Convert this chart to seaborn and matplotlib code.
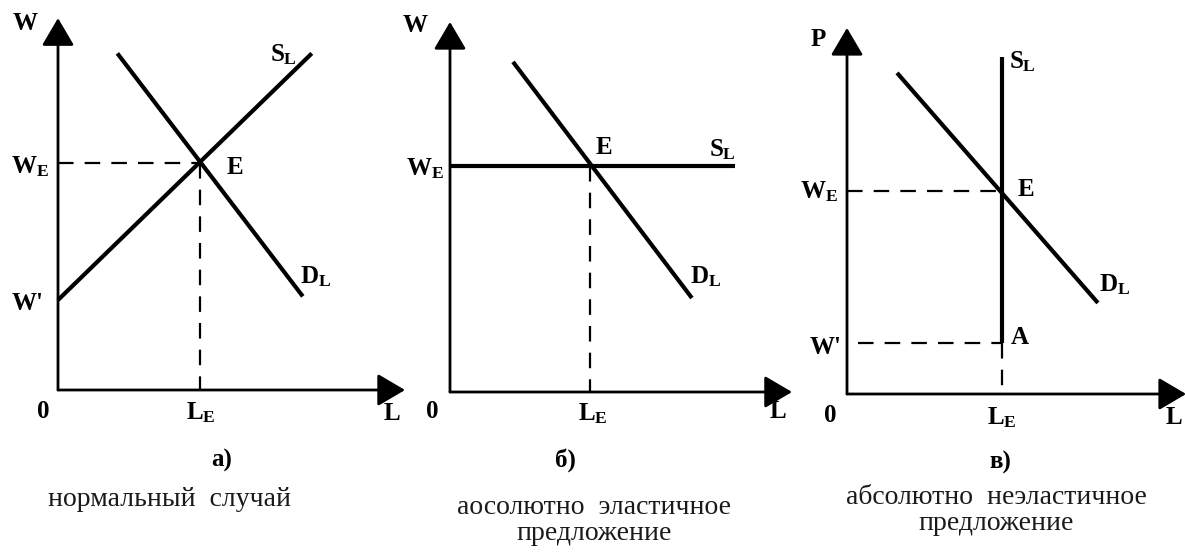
import matplotlib
matplotlib.use("Agg")
import matplotlib.pyplot as plt
import pandas as pd
import seaborn as sns

# ---------------- data (model units) ----------------
# Panel a) normal case
a_supply_L = [0.0, 7.05]
a_supply_W = [2.5, 9.35]
a_demand_L = [1.65, 6.8]
a_demand_W = [9.35, 2.6]
a_LE, a_WE, a_W1 = 3.95, 6.3, 2.5
a_axis_len = [9.64, 10.33]

# Panel b) perfectly elastic supply
b_supply_L = [0.0, 7.92]
b_supply_W = [6.28, 6.28]
b_demand_L = [1.75, 6.72]
b_demand_W = [9.17, 2.61]
b_LE, b_WE = 3.89, 6.28
b_axis_len = [9.5, 10.28]

# Panel c) perfectly inelastic supply
c_supply_L = [4.31, 4.31]
c_supply_W = [1.42, 9.36]
c_demand_L = [1.39, 6.97]
c_demand_W = [8.92, 2.53]
c_LE, c_WE, c_W1 = 4.31, 5.64, 1.42
c_axis_len = [9.42, 10.17]

captions = [["нормальный  случай"],
            ["аосолютно  эластичное", "предложение"],
            ["абсолютно  неэластичное", "предложение"]]
panel_letters = ["а)", "б)", "в)"]

# ---------------- style ----------------
sns.set_theme(style="white")
plt.rcParams["font.family"] = ["Liberation Serif", "DejaVu Serif"]
plt.rcParams["mathtext.fontset"] = "custom"
plt.rcParams["mathtext.rm"] = "Liberation Serif:bold"
plt.rcParams["mathtext.it"] = "Liberation Serif:bold"
plt.rcParams["mathtext.bf"] = "Liberation Serif:bold"

W_PX, H_PX = 1185, 553
SCALE = 36.0  # pixels per model unit
fig = plt.figure(figsize=(W_PX / 100, H_PX / 100), dpi=100)
fig.patch.set_facecolor("white")

LAB = 18
CAP = 20
CURVE_LW = 3.0
AXIS_LW = 2.0
DASH = (0, (7, 5))


def make_axes(ox, oy):
    ax = fig.add_axes([0, 0, 1, 1])
    ax.set_xlim(-ox / SCALE, (W_PX - ox) / SCALE)
    ax.set_ylim(-(H_PX - oy) / SCALE, oy / SCALE)
    ax.axis("off")
    return ax


def to_data(ox, oy, px, py):
    return (px - ox) / SCALE, (oy - py) / SCALE


def axes_arrows(ax, lens):
    sty = "-|>,head_length=0.85,head_width=0.5"
    for end in [(0, lens[1]), (lens[0], 0)]:
        ax.annotate("", xy=end, xytext=(0, 0), annotation_clip=False,
                    arrowprops=dict(arrowstyle=sty, lw=AXIS_LW, color="black",
                                    shrinkA=0, shrinkB=0, mutation_scale=20))


def curve(ax, L, W):
    df = pd.DataFrame({"L": L, "W": W})
    sns.lineplot(data=df, x="L", y="W", ax=ax, color="black", lw=CURVE_LW,
                 estimator=None, sort=False, solid_capstyle="butt")


def dashed(ax, L, W):
    df = pd.DataFrame({"L": L, "W": W})
    sns.lineplot(data=df, x="L", y="W", ax=ax, color="black", lw=1.6,
                 estimator=None, sort=False, linestyle=DASH)


def labels(ax, ox, oy, items):
    for s, px, py in items:
        x, y = to_data(ox, oy, px, py)
        ax.text(x, y, s, ha="center", va="center", fontsize=LAB,
                fontweight="bold", color="black")


def caption(ax, ox, oy, lines, px, pys):
    for s, py in zip(lines, pys):
        x, y = to_data(ox, oy, px, py)
        ax.text(x, y, s, ha="center", va="center", fontsize=CAP,
                color="#1a1a1a")


# ---------------- panel a ----------------
ox, oy = 58, 390
ax = make_axes(ox, oy)
axes_arrows(ax, a_axis_len)
dashed(ax, [0, a_LE], [a_WE, a_WE])
dashed(ax, [a_LE, a_LE], [a_WE, 0])
curve(ax, a_supply_L, a_supply_W)
curve(ax, a_demand_L, a_demand_W)
labels(ax, ox, oy, [
    ("W", 25, 24), ("$S_L$", 283, 55), ("E", 235, 167),
    ("$D_L$", 316, 277), ("$W_E$", 30, 167), ("W'", 28, 303),
    ("0", 43, 411), ("$L_E$", 201, 413), ("L", 392, 414),
    (panel_letters[0], 222, 460),
])
caption(ax, ox, oy, captions[0], 170, [500])

# ---------------- panel b ----------------
ox, oy = 450, 392
ax = make_axes(ox, oy)
axes_arrows(ax, b_axis_len)
dashed(ax, [b_LE, b_LE], [b_WE, 0])
curve(ax, b_supply_L, b_supply_W)
curve(ax, b_demand_L, b_demand_W)
labels(ax, ox, oy, [
    ("W", 415, 26), ("E", 604, 147), ("$S_L$", 722, 150),
    ("$W_E$", 425, 169), ("$D_L$", 706, 277), ("0", 432, 411),
    ("$L_E$", 593, 414), ("L", 778, 412),
    (panel_letters[1], 565, 460),
])
caption(ax, ox, oy, captions[1], 594, [508, 533])

# ---------------- panel c ----------------
ox, oy = 847, 394
ax = make_axes(ox, oy)
axes_arrows(ax, c_axis_len)
dashed(ax, [0, c_LE], [c_WE, c_WE])
dashed(ax, [0.3, c_LE], [c_W1, c_W1])
dashed(ax, [c_LE, c_LE], [c_W1, 0])
curve(ax, c_supply_L, c_supply_W)
curve(ax, c_demand_L, c_demand_W)
labels(ax, ox, oy, [
    ("P", 818, 40), ("$S_L$", 1022, 62), ("E", 1026, 189),
    ("$W_E$", 819, 192), ("$D_L$", 1115, 285), ("A", 1020, 337),
    ("W'", 826, 347), ("0", 830, 416), ("$L_E$", 1002, 418),
    ("L", 1174, 418), (panel_letters[2], 1000, 462),
])
caption(ax, ox, oy, captions[2], 996, [497, 523])

fig.savefig("out.png", dpi=100, facecolor="white")
